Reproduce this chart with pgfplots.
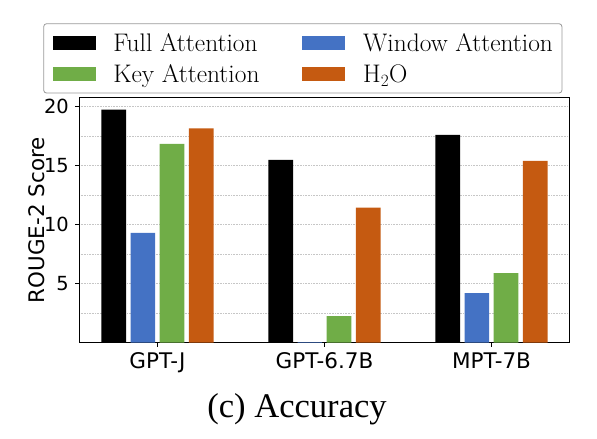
\documentclass[border=0pt]{standalone}
\usepackage{fontspec}
\usepackage{pgfplots}
\pgfplotsset{compat=1.18}
\setsansfont{DejaVu Sans}
\newfontfamily\capfont{Liberation Serif}
\definecolor{cblue}{HTML}{4472C4}
\definecolor{cgreen}{HTML}{70AD47}
\definecolor{corange}{HTML}{C55A11}
\begin{document}
\begin{tikzpicture}
\path[use as bounding box] (0,0) rectangle (597bp,439bp);
\begin{axis}[
  at={(79bp,96.3bp)}, anchor=south west,
  scale only axis, width=490.3bp, height=245bp,
  xmin=-0.47, xmax=2.466, ymin=0, ymax=20.76,
  ybar=4.5bp, bar width=24.7bp,
  legend image code/.code={\fill[#1, sharp corners] (0bp,-7.2bp) rectangle (43bp,7.2bp);},
  xtick={0,1,2}, xticklabels={GPT-J,GPT-6.7B,MPT-7B},
  ytick={5,10,15,20}, minor ytick={2.5,7.5,12.5,17.5},
  ymajorgrids, yminorgrids,
  major grid style={gray!45, dash pattern=on 0.8bp off 0.8bp, line width=0.7bp},
  minor grid style={gray!45, dash pattern=on 0.8bp off 0.8bp, line width=0.7bp},
  tick align=outside, major tick length=4bp, minor tick length=0bp,
  tick pos=left,
  tick style={black, line width=0.8bp},
  axis line style={black, line width=0.8bp},
  /pgf/number format/assume math mode=true,
  xticklabel style={font=\sffamily\fontsize{21.6}{25}\selectfont, inner sep=0pt, yshift=-6bp},
  yticklabel style={font=\sffamily\fontsize{19.5}{23}\selectfont, inner sep=0pt, xshift=-6bp},
  ylabel={ROUGE-2 Score},
  ylabel style={font=\sffamily\fontsize{21.5}{25}\selectfont, inner sep=0pt, at={(axis description cs:-0.0694,0.5)}, anchor=base},
  legend columns=2,
  legend cell align=left,
  legend style={at={(-0.0729,1.3037)}, anchor=north west, draw=gray!80, rounded corners=3bp, line width=0.8bp, fill=white,
    inner xsep=9bp, inner ysep=10.5bp,
    font=\fontsize{25.5}{30}\selectfont,
    nodes={inner sep=0pt, text height=17.4bp, text depth=0bp},
    row sep=13.6bp,
    /tikz/every odd column/.append style={column sep=17.7bp},
    /tikz/every even column/.append style={column sep=43bp}},
]
\addplot[fill=black, draw=none] coordinates {(0,19.75) (1,15.5) (2,17.6)};
\addplot[fill=cblue, draw=none] coordinates {(0,9.3) (1,0.05) (2,4.2)};
\addplot[fill=cgreen, draw=none] coordinates {(0,16.85) (1,2.25) (2,5.9)};
\addplot[fill=corange, draw=none] coordinates {(0,18.15) (1,11.45) (2,15.4)};
\legend{Full Attention, Window Attention, Key Attention, $\mathrm{H}_2\mathrm{O}$}
\end{axis}
\node[anchor=base, font=\capfont\fontsize{34.7}{40}\selectfont] at (297bp,22bp) {(c) Accuracy};
\end{tikzpicture}
\end{document}
